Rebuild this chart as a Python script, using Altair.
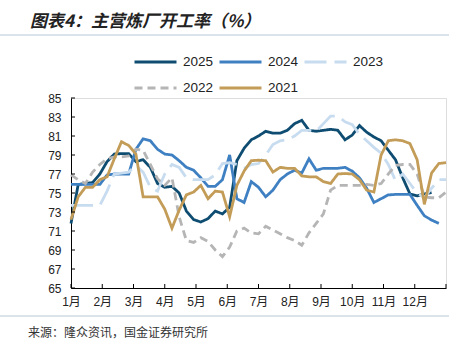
import altair as alt
import pandas as pd

# ---------------- data ----------------
years = ["2025", "2024", "2023", "2022", "2021"]
month_labels = ["1月", "2月", "3月", "4月", "5月", "6月", "7月", "8月", "9月", "10月", "11月", "12月"]
y_ticks = [65, 67, 69, 71, 73, 75, 77, 79, 81, 83, 85]

v2025 = [71.8, 75.9, 76.0, 76.1, 77.0, 78.3, 79.1, 79.15, 79.15, 78.3, 78.5, 77.7, 76.0,
         75.6, 75.7, 75.0, 73.1, 72.2, 71.95, 72.3, 73.1, 72.8, 73.5, 78.4, 79.7, 80.6,
         81.0, 81.5, 81.3, 81.3, 81.6, 82.3, 82.65, 81.6, 81.5, 81.6, 81.7, 81.6, 80.6,
         81.1, 82.1, 81.4, 80.9, 80.5, 79.5, 78.5, 76.6, 74.9, 74.7, 74.9, 75.05]
v2024 = [75.9, 75.9, 75.9, 75.9, 75.9, 76.9, 77.0, 77.0, 77.0, 79.6, 80.7, 80.5, 79.6,
         79.1, 79.0, 78.4, 77.7, 77.4, 76.6, 75.7, 75.7, 76.4, 79.0, 74.4, 74.0, 76.2,
         75.6, 74.6, 75.3, 76.4, 77.0, 77.4, 77.1, 78.6, 77.4, 77.6, 77.6, 77.6, 77.7,
         77.3, 76.6, 75.5, 74.0, 74.4, 74.8, 74.85, 74.85, 74.85, 73.7, 72.6, 72.15, 71.8]
v2023 = [73.7, 73.7, 73.7, 73.7, 73.7, 75.2, 77.0, 77.1, 77.2, 77.9, 77.2, 75.6, 75.2,
         77.0, 78.0, 77.7, 76.6, 76.4, 76.4, 76.4, 76.9, 78.1, 78.2, 78.0, 77.6, 78.0,
         78.1, 79.0, 80.1, 80.5, 80.6, 81.0, 81.6, 81.6, 81.5, 82.3, 83.1, 83.1, 82.5,
         82.2, 81.2, 80.5, 79.8, 79.2, 78.0, 76.3, 77.0, 76.0, 75.0, 74.5, 75.5, 76.4, 76.4]
v2022 = [76.9, 76.4, 76.0, 77.2, 78.0, 78.6, 78.8, 78.8, 78.9, 79.6, 79.5, 78.0, 76.5,
         75.8, 76.6, 72.5, 70.0, 69.8, 70.3, 69.9, 69.0, 68.3, 69.3, 71.0, 71.3, 70.8,
         70.7, 71.5, 71.1, 70.7, 70.3, 70.0, 69.5, 70.8, 71.8, 72.8, 75.3, 75.8, 75.8,
         75.8, 75.8, 75.9, 75.8, 76.0, 77.0, 77.9, 78.0, 78.0, 77.0, 74.6, 74.5, 74.5, 75.1]
v2021 = [72.2, 74.6, 75.6, 75.6, 76.4, 76.7, 78.6, 80.4, 80.0, 79.1, 74.6, 74.6, 74.6,
         73.3, 71.3, 73.2, 74.8, 75.1, 75.8, 74.4, 75.2, 75.1, 72.5, 75.8, 77.3, 78.4,
         78.45, 78.4, 77.2, 77.7, 77.6, 77.6, 76.8, 76.7, 76.7, 76.2, 76.0, 77.0, 77.05,
         77.0, 76.4, 75.3, 75.1, 79.0, 80.5, 80.6, 80.5, 80.2, 78.5, 73.8, 77.1, 78.1, 78.2]

series = [v2025, v2024, v2023, v2022, v2021]
colors = ["#0e4d71", "#3f80c2", "#c8dcf0", "#b5b5b5", "#c39c57"]
dashes = [[1, 0], [1, 0], [22, 8], [8, 5], [1, 0]]

title_text = "图表4：主营炼厂开工率（%）"
source_text = "来源：隆众资讯，国金证券研究所"

rows = []
for yr, vals in zip(years, series):
    for k, v in enumerate(vals):
        rows.append({"year": yr, "m": k * 12 / 52, "v": v})
df = pd.DataFrame(rows)

W, H = 375, 190
FONT = "Liberation Sans, Noto Sans CJK SC"

leg = alt.Legend(title=None, orient="none", legendX=62, legendY=-45, columns=3,
                 direction="horizontal",
                 symbolType="stroke", symbolSize=1764, symbolStrokeWidth=3,
                 labelFontSize=13.5, labelFont=FONT, labelColor="#222",
                 columnPadding=4, rowPadding=8, clipHeight=18, labelOffset=5)

xscale = alt.Scale(domain=[0, 12], nice=False, zero=False)
yscale = alt.Scale(domain=[65, 85], nice=False, zero=False)

xaxis = alt.Axis(values=list(range(13)), title=None, grid=False, ticks=False,
                 labelExpr="datum.value < 12 ? (datum.value + 1) + '月' : ''",
                 labelFont=FONT, labelFontSize=12, labelColor="#222",
                 labelPadding=8, domainColor="#000", domainWidth=1,
                 labelFlush=False, labelOverlap=False)
yaxis = alt.Axis(values=y_ticks, title=None, grid=False, ticks=False,
                 labelFont=FONT, labelFontSize=12, labelColor="#222",
                 labelPadding=10, domainColor="#000", domainWidth=1,
                 labelOverlap=False, labelFlush=False)

lines = alt.Chart(df).mark_line(strokeWidth=2.8).encode(
    x=alt.X("m:Q", scale=xscale, axis=xaxis),
    y=alt.Y("v:Q", scale=yscale, axis=yaxis),
    color=alt.Color("year:N", scale=alt.Scale(domain=years, range=colors), legend=leg),
    strokeDash=alt.StrokeDash("year:N", scale=alt.Scale(domain=years, range=dashes), legend=leg),
)

ytick = alt.Chart(pd.DataFrame({"v": y_ticks})).mark_rule(color="#000", strokeWidth=1).encode(
    y=alt.Y("v:Q", scale=yscale, axis=yaxis), x=alt.value(0), x2=alt.value(4))
xtick = alt.Chart(pd.DataFrame({"m": list(range(13))})).mark_rule(color="#000", strokeWidth=1).encode(
    x=alt.X("m:Q", scale=xscale, axis=xaxis), y=alt.value(H), y2=alt.value(H - 4))

one = pd.DataFrame({"a": [0]})
top_line = alt.Chart(one).mark_rule(color="#b7c7d6", strokeWidth=1).encode(
    x=alt.value(-71), x2=alt.value(378), y=alt.value(-63))
bot_line = alt.Chart(one).mark_rule(color="#b7c7d6", strokeWidth=1).encode(
    x=alt.value(-71), x2=alt.value(378), y=alt.value(218))
source = alt.Chart(one).mark_text(align="left", baseline="middle", fontSize=12,
                                  font="Noto Sans CJK SC", color="#333").encode(
    x=alt.value(-43), y=alt.value(235), text=alt.value(source_text))

chart = alt.layer(lines, ytick, xtick, top_line, bot_line, source).properties(
    width=W, height=H,
    title=alt.Title(title_text, anchor="start", frame="group", fontSize=17, font="Noto Sans CJK SC",
                    fontStyle="italic", fontWeight="bold", color="#222", dx=-41),
    autosize=alt.AutoSizeParams(type="none"),
    padding={"left": 71, "top": 98, "right": 24, "bottom": 62},
).configure_view(stroke=None).configure_axis(labelOverlap=False).configure(background="white")

chart.save("out.html", embed_options={"renderer": "svg", "actions": False})
